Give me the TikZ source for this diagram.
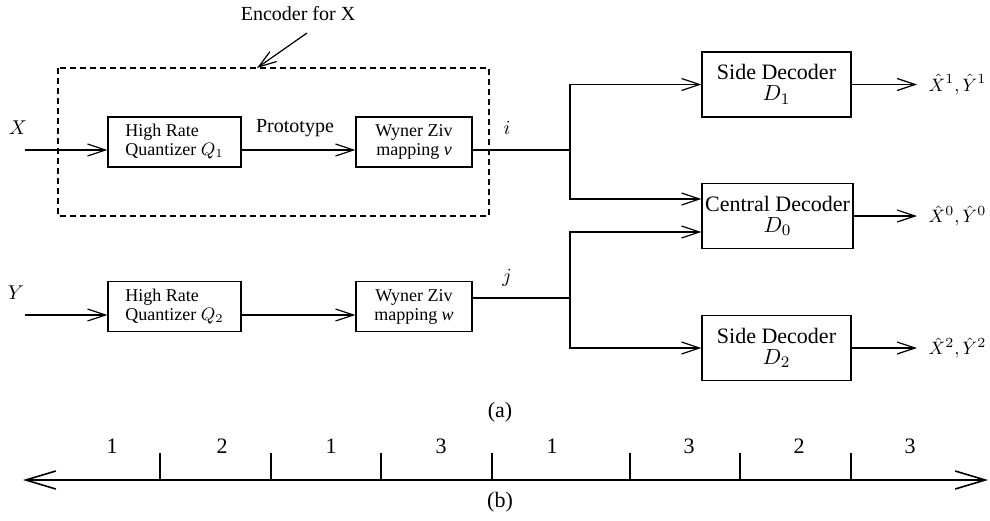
\documentclass[tikz,border=0pt]{standalone}
\usepackage[no-math]{fontspec}
\setmainfont{Liberation Serif}
\usetikzlibrary{arrows.meta}
\begin{document}
\begin{tikzpicture}[x=0.5pt,y=-0.5pt,line width=0.6pt,
	arr/.style={-{Straight Barb[length=9pt,width=6pt]}},
	quant/.style={draw, inner sep=0pt, font=\fontsize{9}{9.5}\selectfont, align=#1, minimum width=66.5pt, minimum height=25pt},
	wz/.style={draw, inner sep=0pt, font=\fontsize{9}{9.5}\selectfont, align=center, minimum width=58pt, minimum height=25pt},
	dec/.style={draw, inner sep=0pt, font=\fontsize{11}{10.5}\selectfont, align=center, minimum width=#1, minimum height=32.5pt},
	lbl/.style={inner sep=0pt, font=\fontsize{10}{12}\selectfont},
	outlbl/.style={anchor=west, inner xsep=5.5pt, inner ysep=0pt, font=\fontsize{9.5}{12}\selectfont}]
	\useasboundingbox (0,0) rectangle (990,520);

	% encoder for X
	\draw[dash pattern=on 3pt off 2pt] (58,68) rectangle (489,216);
	\node[lbl] (enc) at (298,14) {Encoder for X};
	\coordinate (enctail) at (307,33);
	\coordinate (enctip) at (257,68);
	\draw[arr] (enctail) -- (enctip);

	\node[quant=left] (q1) at (174.5,142) {High Rate\\Quantizer $Q_1$};
	\node[wz] (v) at (414,142) {Wyner Ziv\\mapping \textit{v}};
	\node[quant=left] (q2) at (174.5,306.5) {High Rate\\Quantizer $Q_2$};
	\node[wz] (w) at (414,306.5) {Wyner Ziv\\mapping \textit{w}};

	\node[lbl] (xl) at (18,128) {$X$};
	\node[lbl] (yl) at (16,293) {$Y$};
	\node[lbl] (proto) at (295,128) {Prototype};
	\node[lbl] (il) at (507,128) {$i$};
	\node[lbl] (jl) at (507,278) {$j$};

	\coordinate (xin) at (25,150);
	\coordinate (yin) at (25,315);
	\coordinate (ji) at (570,150);
	\coordinate (jj) at (570,298);

	\draw[arr] (xin) -- (xin -| q1.west);
	\draw[arr] (q1.east |- xin) -- (v.west |- xin);
	\draw (v.east |- xin) -- (ji);
	\draw[arr] (yin) -- (yin -| q2.west);
	\draw[arr] (q2.east |- yin) -- (w.west |- yin);
	\draw (jj -| w.east) -- (jj);

	% decoders
	\node[dec=74.5pt] (d1) at (776.5,84.5) {Side Decoder\\$D_1$};
	\node[dec=75.5pt] (d0) at (777.5,216) {Central Decoder\\$D_0$};
	\node[dec=74.5pt] (d2) at (776.5,348) {Side Decoder\\$D_2$};

	\draw[arr] (ji) |- (d1);
	\draw[arr] (ji) |- (d0.west |- 0,199);
	\draw[arr] (jj) |- (d0.west |- 0,232);
	\draw[arr] (jj) |- (d2);

	\node[outlbl] (o1) at (917,84.5) {$\hat X^1, \hat Y^1$};
	\node[outlbl] (o0) at (917,216) {$\hat X^0, \hat Y^0$};
	\node[outlbl] (o2) at (917,348) {$\hat X^2, \hat Y^2$};
	\draw[arr] (d1) -- (o1);
	\draw[arr] (d0) -- (o0);
	\draw[arr] (d2) -- (o2);

	\node[lbl, font=\fontsize{11}{12}\selectfont] (capa) at (500,412) {(a)};

	% index line
	\coordinate (axl) at (23,480);
	\coordinate (axr) at (988,480);
	\draw[line width=0.8pt, {Straight Barb[length=15pt,width=9pt]}-{Straight Barb[length=15pt,width=9pt]}] (axl) -- (axr);
	\foreach \x in {160,271,381,492,630,740,851}
		\draw (\x,480) -- (\x,453);
	\foreach \x/\d in {112/1,222/2,331/1,441/3,552/1,689/3,799/2,910/3}
		\node[lbl, font=\fontsize{11}{12}\selectfont] (n\x) at (\x,446) {\d};

	\node[lbl, font=\fontsize{11}{12}\selectfont] (capb) at (500,502) {(b)};
\end{tikzpicture}
\end{document}
